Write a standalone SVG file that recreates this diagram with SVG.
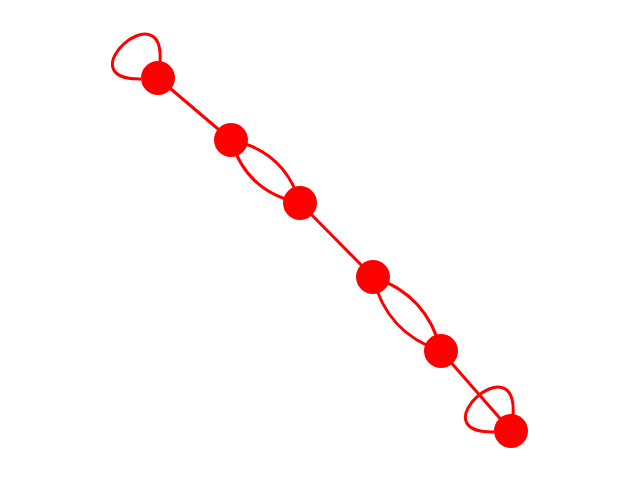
<svg xmlns="http://www.w3.org/2000/svg" width="640" height="480" viewBox="0 0 640 480">
<style>
.e{fill:none;stroke:#ff0000;stroke-width:3}
.n{fill:#ff0000}
</style>
<rect width="640" height="480" fill="#ffffff"/>
<g id="edges">
<path class="e" d="M158,78 L231,140"/>
<path class="e" d="M231,140 Q284.5,150.8 300,203"/>
<path class="e" d="M231,140 Q246.5,192.2 300,203"/>
<path class="e" d="M300,203 L373,277"/>
<path class="e" d="M373,277 Q427.6,295 441,351"/>
<path class="e" d="M373,277 Q386.4,333 441,351"/>
<path class="e" d="M441,351 L511,431"/>
<path class="e" d="M160,62 C165,-10 65,80 141,79"/>
<path class="e" d="M513,415 C518,343 418,433 494,432"/>
</g>
<g id="n1"><circle class="n" cx="158" cy="78" r="17"/></g>
<g id="n2"><circle class="n" cx="231" cy="140" r="17"/></g>
<g id="n3"><circle class="n" cx="300" cy="203" r="17"/></g>
<g id="n4"><circle class="n" cx="373" cy="277" r="17"/></g>
<g id="n5"><circle class="n" cx="441" cy="351" r="17"/></g>
<g id="n6"><circle class="n" cx="511" cy="431" r="17"/></g>
</svg>
